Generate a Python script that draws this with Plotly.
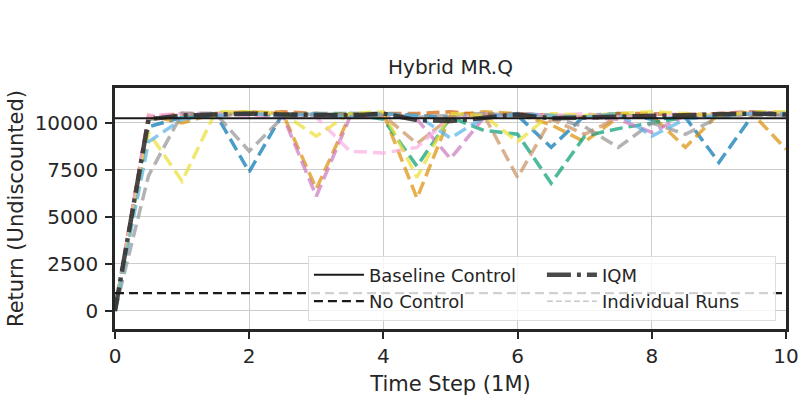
import plotly.graph_objects as go

steps = [0, 0.5, 1, 1.5, 2, 2.5, 3, 3.5, 4, 4.5, 5, 5.5, 6, 6.5, 7, 7.5, 8, 8.5, 9, 9.5, 10]

run_blue = [0, 9800, 10300, 10500, 7400, 10500, 10400, 10500, 10500, 10400, 10300, 10500, 10400, 8700, 10400, 10500, 10200, 10300, 7900, 10400, 10500]
run_orange = [0, 10400, 10000, 10500, 10600, 10500, 6500, 10400, 10500, 6000, 10400, 10600, 10500, 9900, 9000, 10300, 10400, 8700, 10500, 10500, 8600]
run_green = [0, 10200, 10400, 10500, 10500, 10400, 10500, 10500, 10200, 7700, 10300, 9600, 9400, 6800, 9300, 9700, 10000, 10300, 10400, 10500, 10500]
run_red = [0, 10300, 10500, 10400, 10500, 10600, 10500, 10400, 10500, 10500, 10600, 10400, 10500, 10400, 10300, 10500, 10500, 10400, 10500, 10600, 10500]
run_pink = [0, 10300, 10500, 10500, 10400, 10400, 6100, 10300, 10400, 10200, 8100, 10300, 10500, 10400, 10300, 10200, 9500, 10400, 10500, 10600, 10500]
run_tan = [0, 10200, 10500, 10400, 10500, 10500, 10400, 10500, 10400, 8900, 10300, 10400, 7100, 10200, 9400, 10300, 10500, 10400, 10500, 10400, 10500]
run_lightpink = [0, 10400, 10500, 10500, 10400, 10300, 10300, 8500, 8400, 8700, 10300, 10500, 10300, 10400, 10500, 10300, 10400, 10500, 10400, 10500, 10500]
run_gray = [0, 7200, 10500, 10500, 8500, 10300, 10500, 10400, 10500, 10300, 10400, 10500, 10400, 10300, 9800, 8700, 10000, 9400, 10300, 10500, 10400]
run_yellow = [0, 9500, 6900, 10600, 10600, 10500, 9300, 10500, 10600, 7100, 10500, 10400, 9000, 10500, 10400, 10500, 10600, 10500, 10400, 10600, 10600]
run_lightblue = [0, 9000, 10200, 10400, 10500, 10400, 10500, 10300, 10500, 10400, 9200, 10300, 10500, 10400, 10300, 10500, 9300, 10200, 10400, 10500, 10500]

runs = [run_blue, run_orange, run_green, run_red, run_pink, run_tan,
        run_lightpink, run_gray, run_yellow, run_lightblue]
run_colors = ["#0173b2", "#de8f05", "#029e73", "#d55e00", "#cc78bc",
              "#ca9161", "#fbafe4", "#949494", "#ece133", "#56b4e9"]

iqm = [0, 10200, 10400, 10450, 10500, 10450, 10450, 10400, 10500, 10150, 10100, 10300,
       10450, 10250, 10300, 10350, 10350, 10400, 10450, 10500, 10450]

baseline_value = 10250
no_control_value = 950

x_ticks = [0, 2, 4, 6, 8, 10]
y_ticks = [0, 2500, 5000, 7500, 10000]

fig = go.Figure()

for r, c in zip(runs, run_colors):
    fig.add_trace(go.Scatter(x=steps, y=r, mode="lines", showlegend=False,
                             opacity=0.7, hoverinfo="skip",
                             line=dict(color=c, width=3.5, dash="13px,6px")))

fig.add_trace(go.Scatter(x=steps, y=iqm, mode="lines", name="IQM", legendrank=2,
                         opacity=0.85,
                         line=dict(color="#2a2a2a", width=4.5, dash="24px,6px,4px,6px")))

fig.add_trace(go.Scatter(x=[steps[0], steps[-1]], y=[baseline_value, baseline_value],
                         mode="lines", name="Baseline Control", legendrank=1,
                         line=dict(color="#1a1a1a", width=2.2)))

fig.add_trace(go.Scatter(x=[steps[0], steps[-1]], y=[no_control_value, no_control_value],
                         mode="lines", name="No Control", legendrank=3,
                         line=dict(color="#1a1a1a", width=2.2, dash="9px,5px")))

fig.add_trace(go.Scatter(x=[None], y=[None], mode="lines", name="Individual Runs",
                         legendrank=4,
                         line=dict(color="#c8c8c8", width=1.5, dash="6px,3px")))

font_family = "DejaVu Sans"
fig.update_layout(
    width=803, height=403,
    margin=dict(l=115, r=17, t=88, b=74, autoexpand=False),
    paper_bgcolor="white", plot_bgcolor="white",
    font=dict(family=font_family, size=18, color="#262626"),
    title=dict(text="Hybrid MR.Q", x=0.5, xref="paper", xanchor="center",
               y=1 - 67 / 403, yanchor="middle", font=dict(size=20)),
    xaxis=dict(range=[0, 10], tickvals=x_ticks, ticktext=[str(v) for v in x_ticks],
               showgrid=True, gridcolor="#cccccc", gridwidth=1.2,
               showline=True, linecolor="#262626", linewidth=2.5, mirror=True,
               ticks="outside", ticklen=7, tickwidth=2, tickcolor="#262626",
               zeroline=False, tickfont=dict(size=20), automargin=False,
               title=dict(text="Time Step (1M)", font=dict(size=21), standoff=10)),
    yaxis=dict(range=[-960, 11860], tickvals=y_ticks, ticktext=[str(v) for v in y_ticks],
               showgrid=True, gridcolor="#cccccc", gridwidth=1.2,
               showline=True, linecolor="#262626", linewidth=2.5, mirror=True,
               ticks="outside", ticklen=7, tickwidth=2, tickcolor="#262626",
               zeroline=False, tickfont=dict(size=20), automargin=False,
               ticklabelstandoff=3,
               title=dict(text="Return (Undiscounted)", font=dict(size=21), standoff=6)),
    legend=dict(orientation="h", x=0.985, xanchor="right", y=0.035, yanchor="bottom",
                bgcolor="rgba(255,255,255,0.8)", bordercolor="#dddddd", borderwidth=1,
                entrywidth=168, entrywidthmode="pixels", itemwidth=50,
                font=dict(size=18), tracegroupgap=0),
)

fig.write_html("out.html")
